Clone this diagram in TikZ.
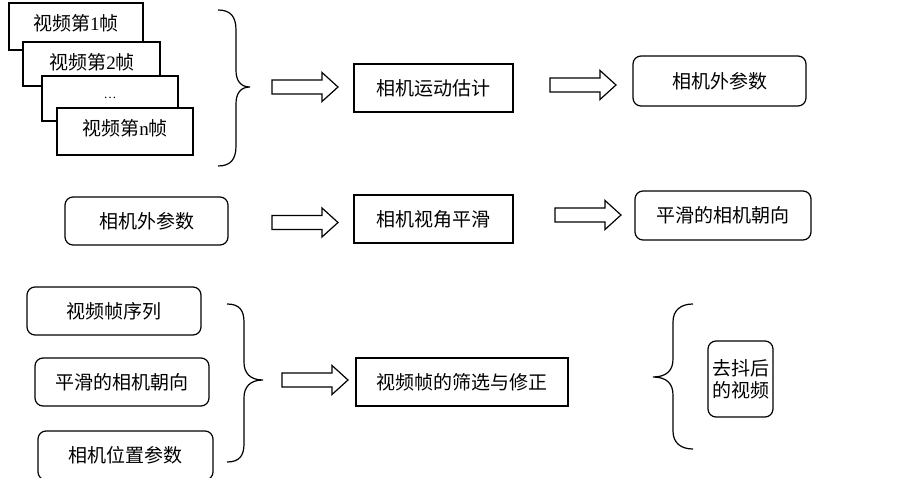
\documentclass[tikz,border=0pt]{standalone}
\usepackage{fontspec}
\setmainfont{Liberation Serif}
\newfontfamily\cjk{Noto Sans CJK SC}
\tikzset{
  x=1pt, y=-1pt,
  lbl/.style={font=\cjk\fontsize{19}{22}\selectfont, inner sep=0pt},
  plainbox/.style={lbl, draw, line width=1.2pt, rectangle},
  roundbox/.style={plainbox, rounded corners=8pt},
  framebox/.style={draw, line width=1.2pt, fill=white, rectangle, inner sep=0pt},
  brace/.style={draw, line width=1.2pt},
  barrow/.pic={\draw[line width=1.2pt, line join=miter] (0,-7) -- (50,-7) -- (50,-14.5) -- (66,0) -- (50,14.5) -- (50,7) -- (0,7) -- cycle;}
}
\begin{document}
\begin{tikzpicture}
\useasboundingbox (0,0) rectangle (903,478);
% stacked frames
\node[framebox, minimum width=134pt, minimum height=47pt] (f1) at (76,26.5) {};
\node[lbl] (t1) at (76,23) {视频第{\rmfamily 1}帧};
\node[framebox, minimum width=137pt, minimum height=44pt] (f2) at (91.5,64) {};
\node[lbl] (t2) at (92,62) {视频第{\rmfamily 2}帧};
\node[framebox, minimum width=136pt, minimum height=45pt] (f3) at (110,98.5) {};
\node[lbl] (t3) at (110,98) {\rmfamily\fontsize{13}{13}\selectfont …};
\node[framebox, minimum width=136pt, minimum height=47pt] (f4) at (125,131.5) {};
\node[lbl] (t4) at (125,128) {视频第{\rmfamily n}帧};
% brace 1
\draw[brace] (218,10) .. controls (230,10) and (236,16) .. (236,30) -- (236,70)
  .. controls (236,80) and (240,87) .. (250,87)
  .. controls (240,87) and (236,94) .. (236,104) -- (236,146)
  .. controls (236,160) and (230,166) .. (218,166);
% row 1
\pic at (272,87) {barrow};
\node[plainbox, minimum width=159pt, minimum height=48pt] (b1) at (433.5,88) {相机运动估计};
\pic at (550,85) {barrow};
\node[roundbox, minimum width=173pt, minimum height=50pt] (r1) at (719.5,81) {相机外参数};
% row 2
\node[roundbox, minimum width=163pt, minimum height=48pt] (r2) at (146.5,221) {相机外参数};
\pic at (272,222.5) {barrow};
\node[plainbox, minimum width=159pt, minimum height=48pt] (b2) at (433.5,219) {相机视角平滑};
\pic at (555,215) {barrow};
\node[roundbox, minimum width=176pt, minimum height=49pt] (r3) at (723,215.5) {平滑的相机朝向};
% row 3
\node[roundbox, minimum width=174pt, minimum height=48pt] (r4) at (114,311) {视频帧序列};
\node[roundbox, minimum width=174pt, minimum height=48pt] (r5) at (122,382) {平滑的相机朝向};
\node[roundbox, minimum width=175pt, minimum height=49pt] (r6) at (125.5,455.5) {相机位置参数};
\draw[brace] (227,304) .. controls (239,304) and (244,310) .. (244,322) -- (244,362)
  .. controls (244,373) and (250,380) .. (263,380)
  .. controls (250,380) and (244,387) .. (244,398) -- (244,444)
  .. controls (244,456) and (239,462) .. (227,462);
\pic at (282,380) {barrow};
\node[plainbox, minimum width=212pt, minimum height=48pt] (b3) at (462,382) {视频帧的筛选与修正};
\draw[brace] (693,304) .. controls (681,304) and (673,310) .. (673,322) -- (673,359)
  .. controls (673,370) and (667,377) .. (653,377)
  .. controls (667,377) and (673,384) .. (673,395) -- (673,431)
  .. controls (673,443) and (681,449) .. (693,449);
\node[roundbox, align=center, minimum width=65pt, minimum height=76pt] (r7) at (740.5,379) {去抖后\\的视频};
\end{tikzpicture}
\end{document}
